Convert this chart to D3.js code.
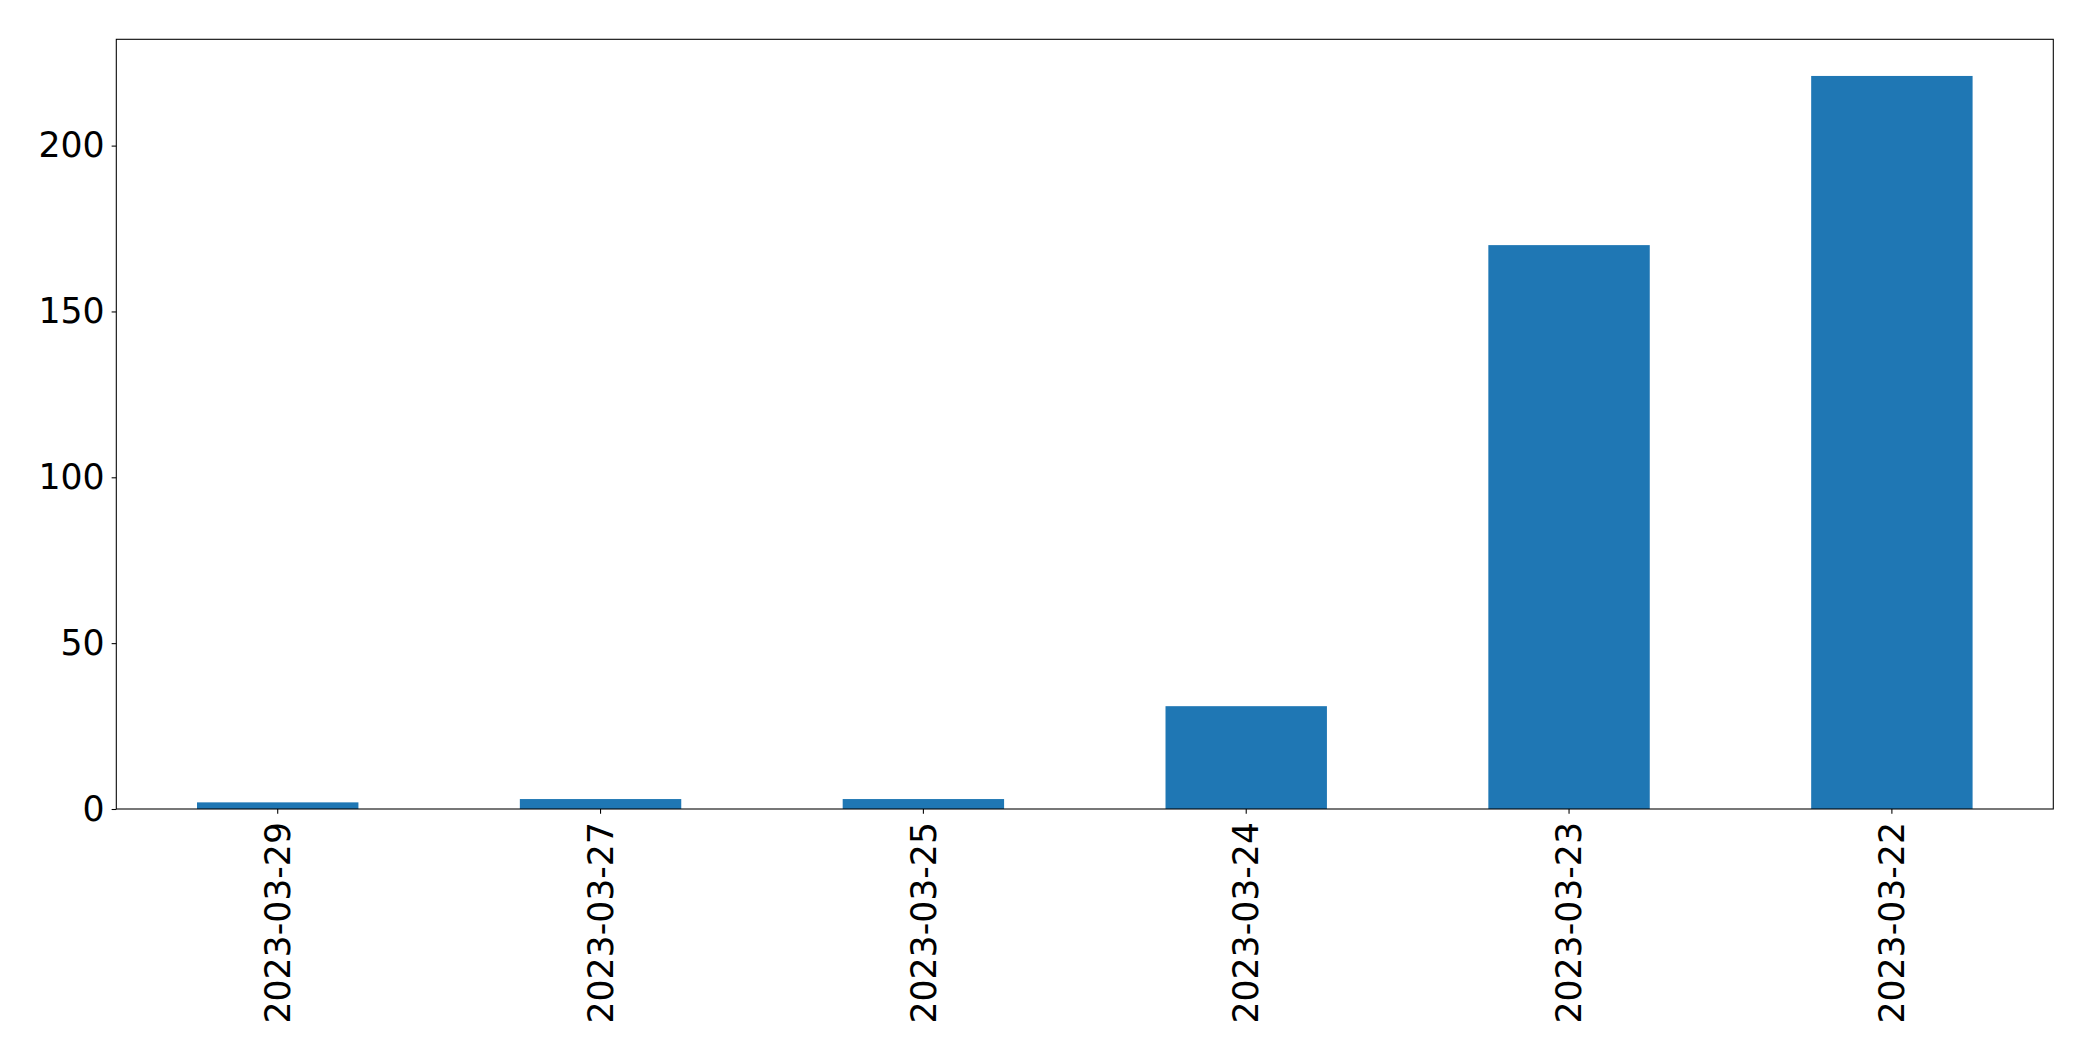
<!DOCTYPE html>
<html>
<head>
<meta charset="utf-8">
<script src="https://cdn.jsdelivr.net/npm/d3@7"></script>
<style>
html,body{margin:0;padding:0;background:#fff;}
svg{display:block;}
</style>
</head>
<body>
<svg id="chart" width="2093" height="1061"></svg>
<script>
const categories = ["2023-03-29","2023-03-27","2023-03-25","2023-03-24","2023-03-23","2023-03-22"];
const values = [2, 3, 3, 31, 170, 221];
const yTicks = [0, 50, 100, 150, 200];

const W = 2093, H = 1061;
const m = {left:116.3, top:39.3, right:W-2053.3, bottom:H-809};
const iw = W - m.left - m.right, ih = H - m.top - m.bottom;
const svg = d3.select("#chart");
const g = svg.append("g").attr("transform", `translate(${m.left},${m.top})`);

const x = d3.scaleBand().domain(categories).range([0, iw]).paddingInner(0.5).paddingOuter(0.25);
const y = d3.scaleLinear().domain([0, d3.max(values)*1.05]).range([ih, 0]);

g.selectAll("rect.bar").data(values).join("rect")
  .attr("class","bar")
  .attr("x", (d,i)=>x(categories[i]))
  .attr("width", x.bandwidth())
  .attr("y", d=>y(d))
  .attr("height", d=>ih - y(d))
  .attr("fill", "#1f77b4");

const font = "DejaVu Sans";
const fs = 34.7;

const ya = g.append("g").call(d3.axisLeft(y).tickValues(yTicks).tickSize(4.67).tickPadding(7));
ya.select(".domain").remove();
ya.selectAll("text").attr("font-family", font).attr("font-size", fs).attr("fill","#000");
ya.selectAll("line").attr("stroke","#000").attr("stroke-width",1.07);

const xa = g.append("g").attr("transform", `translate(0,${ih})`)
  .call(d3.axisBottom(x).tickSize(4.67).tickPadding(0));
xa.select(".domain").remove();
xa.selectAll("line").attr("stroke","#000").attr("stroke-width",1.07);
xa.selectAll("text")
  .attr("font-family", font).attr("font-size", fs).attr("fill","#000")
  .attr("transform", "translate(0,13) rotate(-90)")
  .attr("text-anchor","end")
  .attr("dy","0.35em")
  .attr("y", 0).attr("x", 0);

g.append("rect").attr("x",0).attr("y",0).attr("width",iw).attr("height",ih)
  .attr("fill","none").attr("stroke","#000").attr("stroke-width",1.07);
</script>
</body>
</html>
